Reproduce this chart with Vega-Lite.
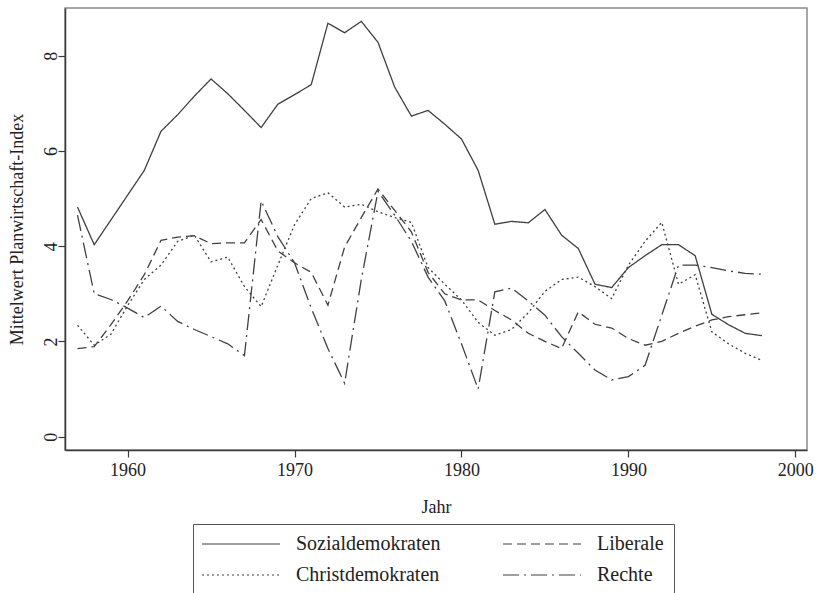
{
  "$schema": "https://vega.github.io/schema/vega-lite/v6.json",
  "width": 742,
  "height": 442,
  "autosize": {"type": "none"},
  "padding": {"left": 65, "top": 8, "right": 13, "bottom": 143},
  "background": "white",
  "config": {
    "font": "Liberation Serif",
    "view": {"stroke": "#8a8a8a", "strokeWidth": 1.5},
    "axis": {"grid": false, "domainColor": "#3a3a3a", "domainWidth": 1.5, "tickColor": "#3a3a3a", "tickWidth": 1.2, "tickSize": 7, "labelFont": "Liberation Serif", "titleFont": "Liberation Serif", "labelFontSize": 18, "titleFontSize": 18, "labelColor": "#222", "titleColor": "#222", "titleFontWeight": "normal"}
  },
  "data": {"values": [
    {"year": 1957, "party": "Sozialdemokraten", "value": 4.82},
    {"year": 1958, "party": "Sozialdemokraten", "value": 4.03},
    {"year": 1959, "party": "Sozialdemokraten", "value": 4.55},
    {"year": 1960, "party": "Sozialdemokraten", "value": 5.07},
    {"year": 1961, "party": "Sozialdemokraten", "value": 5.59},
    {"year": 1962, "party": "Sozialdemokraten", "value": 6.41},
    {"year": 1963, "party": "Sozialdemokraten", "value": 6.76},
    {"year": 1964, "party": "Sozialdemokraten", "value": 7.15},
    {"year": 1965, "party": "Sozialdemokraten", "value": 7.51},
    {"year": 1966, "party": "Sozialdemokraten", "value": 7.2},
    {"year": 1967, "party": "Sozialdemokraten", "value": 6.85},
    {"year": 1968, "party": "Sozialdemokraten", "value": 6.49},
    {"year": 1969, "party": "Sozialdemokraten", "value": 6.98},
    {"year": 1970, "party": "Sozialdemokraten", "value": 7.18},
    {"year": 1971, "party": "Sozialdemokraten", "value": 7.39},
    {"year": 1972, "party": "Sozialdemokraten", "value": 8.68},
    {"year": 1973, "party": "Sozialdemokraten", "value": 8.48},
    {"year": 1974, "party": "Sozialdemokraten", "value": 8.72},
    {"year": 1975, "party": "Sozialdemokraten", "value": 8.28},
    {"year": 1976, "party": "Sozialdemokraten", "value": 7.34},
    {"year": 1977, "party": "Sozialdemokraten", "value": 6.73},
    {"year": 1978, "party": "Sozialdemokraten", "value": 6.85},
    {"year": 1979, "party": "Sozialdemokraten", "value": 6.56},
    {"year": 1980, "party": "Sozialdemokraten", "value": 6.25},
    {"year": 1981, "party": "Sozialdemokraten", "value": 5.59},
    {"year": 1982, "party": "Sozialdemokraten", "value": 4.46},
    {"year": 1983, "party": "Sozialdemokraten", "value": 4.52},
    {"year": 1984, "party": "Sozialdemokraten", "value": 4.49},
    {"year": 1985, "party": "Sozialdemokraten", "value": 4.77},
    {"year": 1986, "party": "Sozialdemokraten", "value": 4.23},
    {"year": 1987, "party": "Sozialdemokraten", "value": 3.95},
    {"year": 1988, "party": "Sozialdemokraten", "value": 3.2},
    {"year": 1989, "party": "Sozialdemokraten", "value": 3.13},
    {"year": 1990, "party": "Sozialdemokraten", "value": 3.55},
    {"year": 1991, "party": "Sozialdemokraten", "value": 3.8},
    {"year": 1992, "party": "Sozialdemokraten", "value": 4.03},
    {"year": 1993, "party": "Sozialdemokraten", "value": 4.03},
    {"year": 1994, "party": "Sozialdemokraten", "value": 3.8},
    {"year": 1995, "party": "Sozialdemokraten", "value": 2.57},
    {"year": 1996, "party": "Sozialdemokraten", "value": 2.35},
    {"year": 1997, "party": "Sozialdemokraten", "value": 2.17},
    {"year": 1998, "party": "Sozialdemokraten", "value": 2.12},

    {"year": 1957, "party": "Liberale", "value": 1.85},
    {"year": 1958, "party": "Liberale", "value": 1.89},
    {"year": 1959, "party": "Liberale", "value": 2.35},
    {"year": 1960, "party": "Liberale", "value": 2.85},
    {"year": 1961, "party": "Liberale", "value": 3.4},
    {"year": 1962, "party": "Liberale", "value": 4.12},
    {"year": 1963, "party": "Liberale", "value": 4.19},
    {"year": 1964, "party": "Liberale", "value": 4.22},
    {"year": 1965, "party": "Liberale", "value": 4.05},
    {"year": 1966, "party": "Liberale", "value": 4.07},
    {"year": 1967, "party": "Liberale", "value": 4.07},
    {"year": 1968, "party": "Liberale", "value": 4.56},
    {"year": 1969, "party": "Liberale", "value": 3.9},
    {"year": 1970, "party": "Liberale", "value": 3.65},
    {"year": 1971, "party": "Liberale", "value": 3.45},
    {"year": 1972, "party": "Liberale", "value": 2.76},
    {"year": 1973, "party": "Liberale", "value": 3.98},
    {"year": 1974, "party": "Liberale", "value": 4.6},
    {"year": 1975, "party": "Liberale", "value": 5.2},
    {"year": 1976, "party": "Liberale", "value": 4.75},
    {"year": 1977, "party": "Liberale", "value": 4.3},
    {"year": 1978, "party": "Liberale", "value": 3.45},
    {"year": 1979, "party": "Liberale", "value": 3.0},
    {"year": 1980, "party": "Liberale", "value": 2.87},
    {"year": 1981, "party": "Liberale", "value": 2.87},
    {"year": 1982, "party": "Liberale", "value": 2.65},
    {"year": 1983, "party": "Liberale", "value": 2.45},
    {"year": 1984, "party": "Liberale", "value": 2.17},
    {"year": 1985, "party": "Liberale", "value": 2.0},
    {"year": 1986, "party": "Liberale", "value": 1.85},
    {"year": 1987, "party": "Liberale", "value": 2.62},
    {"year": 1988, "party": "Liberale", "value": 2.36},
    {"year": 1989, "party": "Liberale", "value": 2.28},
    {"year": 1990, "party": "Liberale", "value": 2.06},
    {"year": 1991, "party": "Liberale", "value": 1.92},
    {"year": 1992, "party": "Liberale", "value": 2.0},
    {"year": 1993, "party": "Liberale", "value": 2.17},
    {"year": 1994, "party": "Liberale", "value": 2.32},
    {"year": 1995, "party": "Liberale", "value": 2.45},
    {"year": 1996, "party": "Liberale", "value": 2.52},
    {"year": 1997, "party": "Liberale", "value": 2.56},
    {"year": 1998, "party": "Liberale", "value": 2.6},

    {"year": 1957, "party": "Christdemokraten", "value": 2.34},
    {"year": 1958, "party": "Christdemokraten", "value": 1.92},
    {"year": 1959, "party": "Christdemokraten", "value": 2.15},
    {"year": 1960, "party": "Christdemokraten", "value": 2.75},
    {"year": 1961, "party": "Christdemokraten", "value": 3.3},
    {"year": 1962, "party": "Christdemokraten", "value": 3.6},
    {"year": 1963, "party": "Christdemokraten", "value": 4.1},
    {"year": 1964, "party": "Christdemokraten", "value": 4.23},
    {"year": 1965, "party": "Christdemokraten", "value": 3.67},
    {"year": 1966, "party": "Christdemokraten", "value": 3.77},
    {"year": 1967, "party": "Christdemokraten", "value": 3.15},
    {"year": 1968, "party": "Christdemokraten", "value": 2.73},
    {"year": 1969, "party": "Christdemokraten", "value": 3.6},
    {"year": 1970, "party": "Christdemokraten", "value": 4.45},
    {"year": 1971, "party": "Christdemokraten", "value": 5.0},
    {"year": 1972, "party": "Christdemokraten", "value": 5.12},
    {"year": 1973, "party": "Christdemokraten", "value": 4.82},
    {"year": 1974, "party": "Christdemokraten", "value": 4.88},
    {"year": 1975, "party": "Christdemokraten", "value": 4.72},
    {"year": 1976, "party": "Christdemokraten", "value": 4.6},
    {"year": 1977, "party": "Christdemokraten", "value": 4.5},
    {"year": 1978, "party": "Christdemokraten", "value": 3.55},
    {"year": 1979, "party": "Christdemokraten", "value": 3.2},
    {"year": 1980, "party": "Christdemokraten", "value": 2.87},
    {"year": 1981, "party": "Christdemokraten", "value": 2.4},
    {"year": 1982, "party": "Christdemokraten", "value": 2.13},
    {"year": 1983, "party": "Christdemokraten", "value": 2.25},
    {"year": 1984, "party": "Christdemokraten", "value": 2.6},
    {"year": 1985, "party": "Christdemokraten", "value": 3.05},
    {"year": 1986, "party": "Christdemokraten", "value": 3.3},
    {"year": 1987, "party": "Christdemokraten", "value": 3.35},
    {"year": 1988, "party": "Christdemokraten", "value": 3.15},
    {"year": 1989, "party": "Christdemokraten", "value": 2.9},
    {"year": 1990, "party": "Christdemokraten", "value": 3.6},
    {"year": 1991, "party": "Christdemokraten", "value": 4.1},
    {"year": 1992, "party": "Christdemokraten", "value": 4.5},
    {"year": 1993, "party": "Christdemokraten", "value": 3.2},
    {"year": 1994, "party": "Christdemokraten", "value": 3.4},
    {"year": 1995, "party": "Christdemokraten", "value": 2.2},
    {"year": 1996, "party": "Christdemokraten", "value": 1.95},
    {"year": 1997, "party": "Christdemokraten", "value": 1.75},
    {"year": 1998, "party": "Christdemokraten", "value": 1.6},

    {"year": 1957, "party": "Rechte", "value": 4.65},
    {"year": 1958, "party": "Rechte", "value": 3.0},
    {"year": 1959, "party": "Rechte", "value": 2.88},
    {"year": 1960, "party": "Rechte", "value": 2.7},
    {"year": 1961, "party": "Rechte", "value": 2.5},
    {"year": 1962, "party": "Rechte", "value": 2.74},
    {"year": 1963, "party": "Rechte", "value": 2.42},
    {"year": 1964, "party": "Rechte", "value": 2.25},
    {"year": 1965, "party": "Rechte", "value": 2.1},
    {"year": 1966, "party": "Rechte", "value": 1.95},
    {"year": 1967, "party": "Rechte", "value": 1.7},
    {"year": 1968, "party": "Rechte", "value": 4.95},
    {"year": 1969, "party": "Rechte", "value": 4.2},
    {"year": 1970, "party": "Rechte", "value": 3.65},
    {"year": 1971, "party": "Rechte", "value": 2.7},
    {"year": 1972, "party": "Rechte", "value": 1.85},
    {"year": 1973, "party": "Rechte", "value": 1.12},
    {"year": 1974, "party": "Rechte", "value": 3.3},
    {"year": 1975, "party": "Rechte", "value": 5.15},
    {"year": 1976, "party": "Rechte", "value": 4.65},
    {"year": 1977, "party": "Rechte", "value": 4.1},
    {"year": 1978, "party": "Rechte", "value": 3.35},
    {"year": 1979, "party": "Rechte", "value": 2.85},
    {"year": 1980, "party": "Rechte", "value": 1.95},
    {"year": 1981, "party": "Rechte", "value": 1.0},
    {"year": 1982, "party": "Rechte", "value": 3.04},
    {"year": 1983, "party": "Rechte", "value": 3.12},
    {"year": 1984, "party": "Rechte", "value": 2.85},
    {"year": 1985, "party": "Rechte", "value": 2.55},
    {"year": 1986, "party": "Rechte", "value": 2.1},
    {"year": 1987, "party": "Rechte", "value": 1.75},
    {"year": 1988, "party": "Rechte", "value": 1.4},
    {"year": 1989, "party": "Rechte", "value": 1.19},
    {"year": 1990, "party": "Rechte", "value": 1.26},
    {"year": 1991, "party": "Rechte", "value": 1.5},
    {"year": 1992, "party": "Rechte", "value": 2.55},
    {"year": 1993, "party": "Rechte", "value": 3.6},
    {"year": 1994, "party": "Rechte", "value": 3.6},
    {"year": 1995, "party": "Rechte", "value": 3.55},
    {"year": 1996, "party": "Rechte", "value": 3.48},
    {"year": 1997, "party": "Rechte", "value": 3.43},
    {"year": 1998, "party": "Rechte", "value": 3.41}
  ]},
  "mark": {"type": "line", "color": "#404040", "strokeWidth": 1.3, "clip": true},
  "encoding": {
    "x": {
      "field": "year", "type": "quantitative",
      "scale": {"domain": [1956.25, 2000.7], "nice": false, "zero": false},
      "axis": {"title": "Jahr", "values": [1960, 1970, 1980, 1990, 2000], "format": "d", "labelPadding": 4, "titlePadding": 19}
    },
    "y": {
      "field": "value", "type": "quantitative",
      "scale": {"domain": [-0.28, 9.0], "nice": false, "zero": false},
      "axis": {"title": "Mittelwert Planwirtschaft-Index", "values": [0, 2, 4, 6, 8], "labelAngle": -90, "labelPadding": -2, "titlePadding": 16}
    },
    "strokeDash": {
      "field": "party", "type": "nominal",
      "scale": {
        "domain": ["Sozialdemokraten", "Liberale", "Christdemokraten", "Rechte"],
        "range": [[1, 0], [9, 5], [2, 3], [16, 5, 2, 5]]
      },
      "legend": {
        "title": null,
        "orient": "none",
        "direction": "horizontal",
        "legendX": 128,
        "legendY": 516,
        "columns": 2,
        "columnPadding": 59,
        "rowPadding": 11,
        "padding": 10,
        "strokeColor": "#555",
        "fillColor": "white",
        "symbolType": "M-2.2,0H13.4",
        "symbolSize": 100,
        "symbolStrokeWidth": 1.2,
        "symbolStrokeColor": "#404040",
        "labelOffset": 73,
        "labelFontSize": 20,
        "labelFont": "Liberation Serif",
        "labelColor": "#222",
        "labelLimit": 400
      }
    }
  }
}
